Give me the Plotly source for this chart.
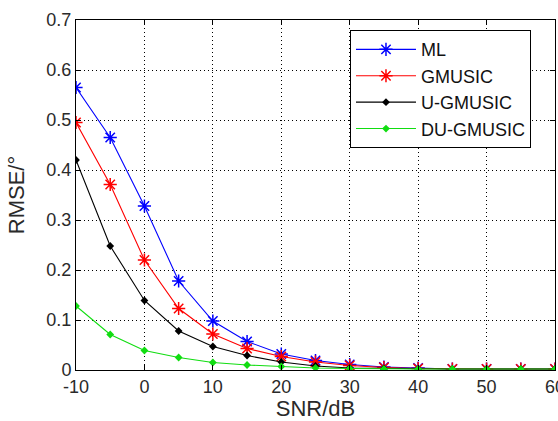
import plotly.graph_objects as go

snr = [-10, -5, 0, 5, 10, 15, 20, 25, 30, 35, 40, 45, 50, 55, 60]
ml = [0.565, 0.465, 0.328, 0.178, 0.098, 0.057, 0.032, 0.019, 0.011, 0.006, 0.004, 0.002, 0.002, 0.002, 0.002]
gmusic = [0.495, 0.371, 0.220, 0.123, 0.072, 0.043, 0.027, 0.016, 0.009, 0.005, 0.003, 0.002, 0.002, 0.002, 0.002]
ugmusic = [0.420, 0.248, 0.139, 0.078, 0.047, 0.029, 0.016, 0.008, 0.004, 0.003, 0.002, 0.002, 0.002, 0.002, 0.002]
dugmusic = [0.128, 0.071, 0.039, 0.025, 0.015, 0.010, 0.007, 0.004, 0.003, 0.002, 0.002, 0.002, 0.002, 0.002, 0.002]
x_ticks = [-10, 0, 10, 20, 30, 40, 50, 60]
x_ticktext = ["-10", "0", "10", "20", "30", "40", "50", "60"]
y_ticks = [0, 0.1, 0.2, 0.3, 0.4, 0.5, 0.6, 0.7]
y_ticktext = ["0", "0.1", "0.2", "0.3", "0.4", "0.5", "0.6", "0.7"]

names = ["ML", "GMUSIC", "U-GMUSIC", "DU-GMUSIC"]
colors = ["#0000ff", "#ff0000", "#000000", "#11dd11"]
series = [ml, gmusic, ugmusic, dugmusic]

fig = go.Figure()
for i, (name, col, ys) in enumerate(zip(names, colors, series)):
    if i < 2:
        marker = dict(symbol="asterisk-open", size=11, color=col, line=dict(color=col, width=1.5))
    else:
        marker = dict(symbol="diamond", size=6, color=col, line=dict(width=0))
    fig.add_trace(go.Scatter(
        x=snr, y=ys, name=name, mode="lines+markers",
        line=dict(color=col, width=1.1), marker=marker,
        legendgroup=name,
    ))

font = dict(family="Liberation Sans, Arial, sans-serif", size=18, color="#2a2a2a")
fig.update_layout(
    width=558, height=421,
    margin=dict(l=76, r=3, t=20, b=51),
    paper_bgcolor="white", plot_bgcolor="white",
    font=font,
    showlegend=True,
    legend=dict(x=0.572, y=0.971, xanchor="left", yanchor="top",
                bordercolor="black", borderwidth=1, bgcolor="white",
                font=dict(size=18, color="#111111"), tracegroupgap=0,
                itemwidth=60, entrywidth=162, entrywidthmode="pixels"),
)
axis_common = dict(
    showline=True, linecolor="black", linewidth=1, mirror="ticks",
    ticks="inside", ticklen=5, tickcolor="black",
    showgrid=True, gridcolor="black", griddash="1px,3px", gridwidth=1,
    zeroline=False, automargin=False,
)
fig.update_xaxes(range=[-10, 60], tickvals=x_ticks, ticktext=x_ticktext,
                 ticklabeloverflow="allow",
                 title=dict(text="SNR/dB"), **axis_common)
fig.update_yaxes(range=[0, 0.7], tickvals=y_ticks, ticktext=y_ticktext,
                 title=dict(text="RMSE/°"), **axis_common)

fig.write_html("out.html")
